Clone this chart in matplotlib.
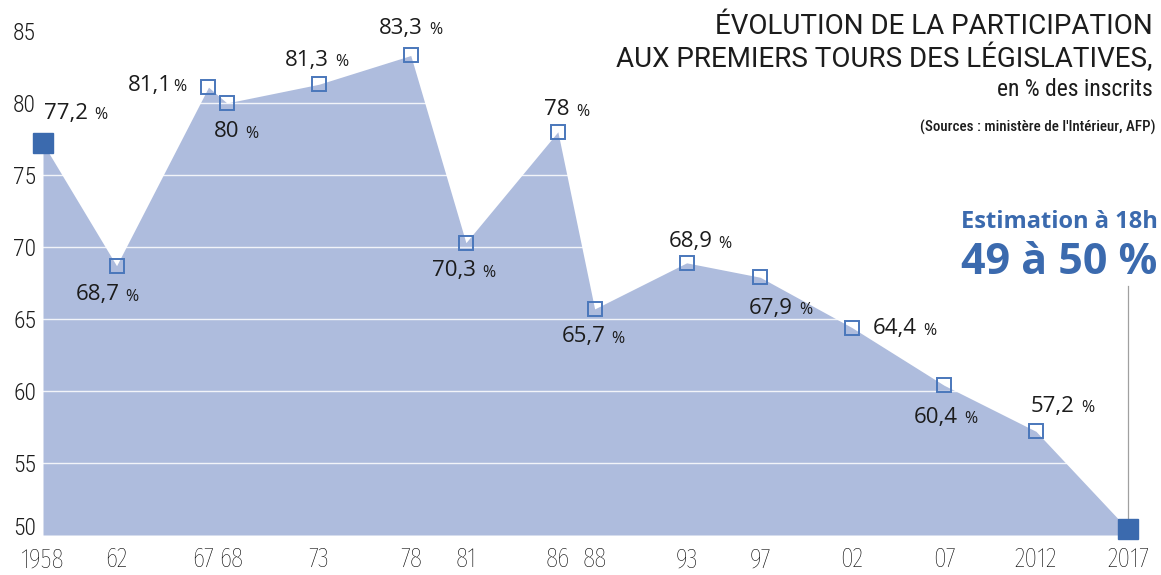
import matplotlib.pyplot as plt
from matplotlib.transforms import ScaledTranslation

# Participation au premier tour des législatives (% des inscrits)
years = [1958, 1962, 1967, 1968, 1973, 1978, 1981, 1986, 1988, 1993, 1997, 2002, 2007, 2012, 2017]
values = [77.2, 68.7, 81.1, 80.0, 81.3, 83.3, 70.3, 78.0, 65.7, 68.9, 67.9, 64.4, 60.4, 57.2, 50.4]
tick_labels = ["1958", "62", "67", "68", "73", "78", "81", "86", "88", "93", "97", "02", "07", "2012", "2017"]
point_labels = ["77,2", "68,7", "81,1", "80", "81,3", "83,3", "70,3", "78", "65,7", "68,9",
                "67,9", "64,4", "60,4", "57,2", None]
# label centre offsets in pixels (dx, dy), and whether a space precedes %
offsets = [(37, 30), (-5, -29), (-45, 2), (4, -29), (2, 24), (4, 27), (2, -28), (4, 22),
           (3, -28), (18, 21), (25, -31), (57, -1), (6, -32), (31, 25), None]
spaced = [True, True, False, True, True, True, True, True, True, True, True, True, True, True, None]

fill_col = "#aebcdd"
blue = "#3b6aae"
txt_col = "#1c1c1c"
cond = "Roboto Condensed"
xcond = "Fira Sans Extra Condensed"
title_font = "Roboto"
lab_font = ["Open Sans", "DejaVu Sans"]

fig = plt.figure(figsize=(11.61, 5.75), dpi=100)
ax = fig.add_axes([43 / 1161, 40 / 575, 1118 / 1161, 518.4 / 575])

ax.fill_between(years, values, 50, color=fill_col, lw=0, zorder=1)
for g in [55, 60, 65, 70, 75, 80]:
    ax.axhline(g, color="white", lw=1.0, alpha=0.85, zorder=2)

ax.plot(years[1:-1], values[1:-1], ls="none", marker="s", ms=10, mfc="none",
        mec="#4a77bb", mew=1.4, zorder=4)
ax.plot([years[0], years[-1]], [values[0], values[-1]], ls="none", marker="s", ms=14,
        mfc=blue, mec=blue, zorder=5, clip_on=False)

for x, y, lab, off, sp in zip(years, values, point_labels, offsets, spaced):
    if lab is None:
        continue
    dx, dy = off
    ax.annotate(lab, (x, y), xytext=(dx + 8, dy), textcoords="offset pixels",
                ha="right", va="center", fontsize=16, family=lab_font, color=txt_col, zorder=6)
    ax.annotate("%", (x, y), xytext=(dx + (14 if sp else 10), dy - 2), textcoords="offset pixels",
                ha="left", va="center", fontsize=11.5, family=lab_font, color=txt_col, zorder=6)

ax.set_xlim(1958, 2018.8)
ax.set_ylim(50, 86)
ax.set_xticks(years)
ax.set_xticklabels(tick_labels, family=xcond, fontweight="light", fontsize=20, color="black")
ax.set_yticks([50, 55, 60, 65, 70, 75, 80, 85])
ax.set_yticklabels(["50", "55", "60", "65", "70", "75", "80", "85"], family=cond,
                   fontweight="light", fontsize=17, color=txt_col)
ax.tick_params(length=0, axis="x", pad=8)
ax.tick_params(length=0, axis="y", pad=5)


def nudge(lbl, dx_px, dy_px):
    lbl.set_transform(lbl.get_transform() + ScaledTranslation(dx_px / 100, dy_px / 100, fig.dpi_scale_trans))


# le "50" est remonté pour ne pas toucher "1958", "67" et "68" écartés
nudge(ax.get_yticklabels()[0], 0, 9)
nudge(ax.get_xticklabels()[2], -5, 0)
nudge(ax.get_xticklabels()[3], 4, 0)
for s in ax.spines.values():
    s.set_visible(False)

# trait vers l'estimation
ax.plot([years[-1], years[-1]], [values[-1] + 0.6, 67.3], color="#a0a0a0", lw=0.9, zorder=3,
        clip_on=False)

fig.text(1153 / 1161, 1 - 26 / 575, "ÉVOLUTION DE LA PARTICIPATION", ha="right", va="center",
         family=title_font, fontsize=20, color=txt_col)
fig.text(1153 / 1161, 1 - 58 / 575, "AUX PREMIERS TOURS DES LÉGISLATIVES,", ha="right",
         va="center", family=title_font, fontsize=20, color=txt_col)
fig.text(1153 / 1161, 1 - 90 / 575, "en % des inscrits", ha="right", va="center",
         family=cond, fontsize=17, color=txt_col)
fig.text(1155 / 1161, 1 - 127 / 575, "(Sources : ministère de l'Intérieur, AFP)", ha="right",
         va="center", family=cond, fontsize=10.8, fontweight="medium", color=txt_col)

fig.text(1158 / 1161, 1 - 222 / 575, "Estimation à 18h", ha="right", va="center",
         family=lab_font, fontsize=17, fontweight="bold", color=blue)
fig.text(1157 / 1161, 1 - 262 / 575, "49 à 50 %", ha="right", va="center",
         family=lab_font, fontsize=31, fontweight="bold", color=blue)

fig.savefig("out.png", dpi=100)
